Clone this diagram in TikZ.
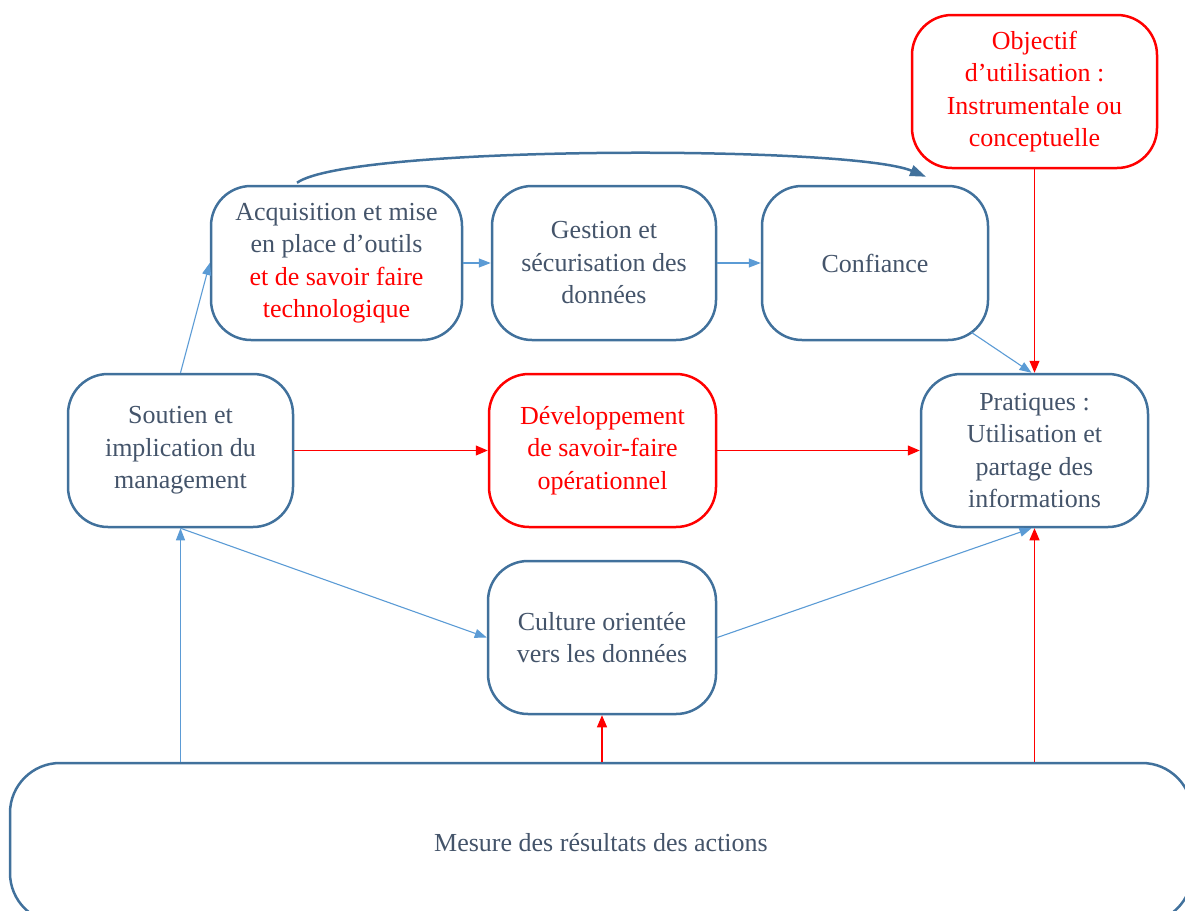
\documentclass[tikz,border=0pt]{standalone}
\usepackage{fontspec}
\setmainfont{Liberation Serif}
\usetikzlibrary{arrows.meta,calc}
\definecolor{boxblue}{HTML}{41719C}
\definecolor{lineblue}{HTML}{5B9BD5}
\definecolor{txt}{HTML}{44546A}
\definecolor{myred}{HTML}{FF0000}
\tikzset{
  box/.style={draw=boxblue, line width=2.5pt, rounded corners=40pt, align=center,
    text=txt, font=\fontsize{26}{32.5}\selectfont, inner sep=4pt},
  redbox/.style={box, draw=myred, text=myred},
  bluearrow/.style={draw=lineblue, line width=1.1pt, -{Triangle[length=12pt,width=9pt]}},
  redarrow/.style={draw=myred, line width=1.1pt, -{Triangle[length=12pt,width=10pt]}},
  bigcurve/.style={draw=boxblue, line width=2.5pt, -{Triangle[length=16pt,width=11pt]}}
}
\begin{document}
\begin{tikzpicture}[x=1pt,y=-1pt]
\useasboundingbox (0,0) rectangle (1185,910);
\node[redbox, minimum width=245pt, minimum height=153pt] (obj) at (1034.5,91.5)
  {Objectif\\d’utilisation :\\Instrumentale ou\\conceptuelle};
\node[box, minimum width=251pt, minimum height=154pt] (acq) at (336.5,263)
  {Acquisition et mise\\en place d’outils\\\textcolor{myred}{et de savoir faire}\\\textcolor{myred}{technologique}};
\node[box, minimum width=224pt, minimum height=154pt] (ges) at (604,263)
  {Gestion et\\sécurisation des\\données};
\node[box, minimum width=226pt, minimum height=154pt] (con) at (875,263) {Confiance};
\node[box, minimum width=225pt, minimum height=153pt] (sou) at (180.5,450.5)
  {Soutien et\\implication du\\management};
\node[redbox, minimum width=227pt, minimum height=153pt] (dev) at (602.5,450.5)
  {Développement\\de savoir-faire\\opérationnel};
\node[box, minimum width=227pt, minimum height=153pt] (pra) at (1034.5,450.5)
  {Pratiques :\\Utilisation et\\partage des\\informations};
\node[box, minimum width=228pt, minimum height=153pt] (cul) at (602,637.5)
  {Culture orientée\\vers les données};
\node[box, rounded corners=50pt, minimum width=1182pt, minimum height=160pt] (mes) at (601,843)
  {Mesure des résultats des actions};
% connectors
\draw[bluearrow] (acq.east) -- (ges.west);
\draw[bluearrow] (ges.east) -- (con.west);
\draw[bigcurve] ([xshift=-39.5pt,yshift=2pt]acq.north) .. controls (350,145) and (850,145) .. ([xshift=51pt,yshift=8pt]con.north);
\draw[bluearrow] ([xshift=-18pt,yshift=9pt]con.south east) -- ([xshift=-3pt]pra.north);
\draw[redarrow] (obj.south) -- (pra.north);
\draw[redarrow] (sou.east) -- (dev.west);
\draw[redarrow] (dev.east) -- (pra.west);
\draw[bluearrow] (sou.north) -- (acq.west);
\draw[bluearrow] (sou.south) -- (cul.west);
\draw[bluearrow] (cul.east) -- ([xshift=-3pt]pra.south);
\draw[bluearrow] (sou.south |- mes.north) -- (sou.south);
\draw[redarrow] (cul.south |- mes.north) -- (cul.south);
\draw[redarrow] (pra.south |- mes.north) -- (pra.south);
\end{tikzpicture}
\end{document}
